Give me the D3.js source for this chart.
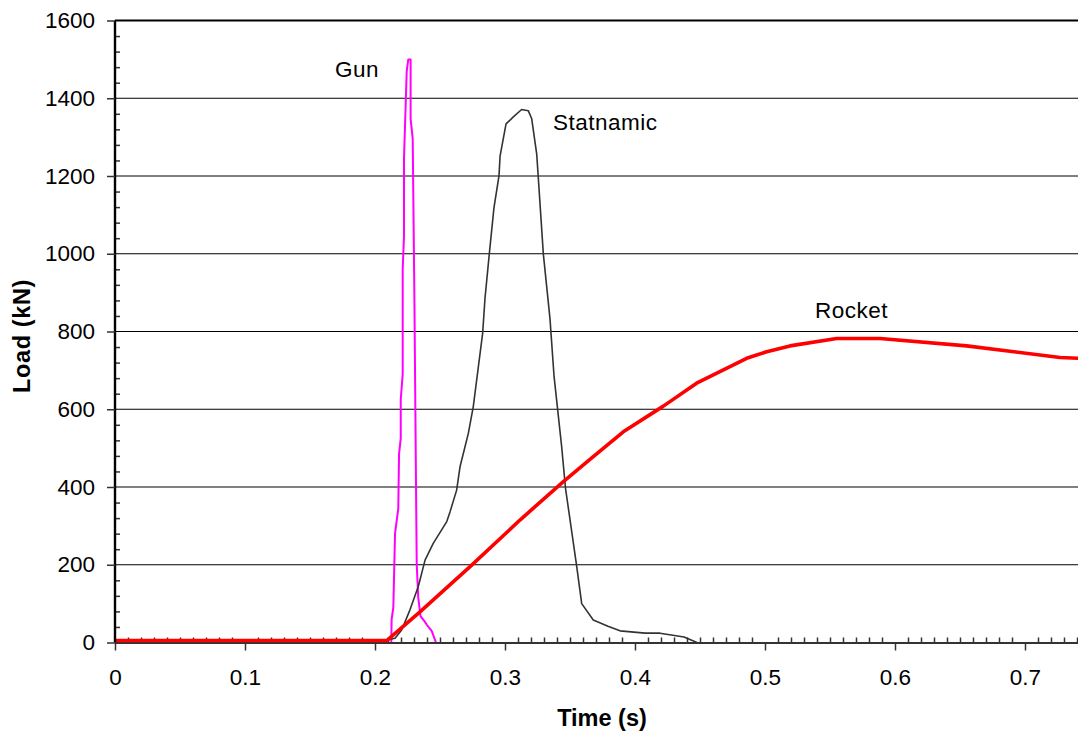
<!DOCTYPE html>
<html>
<head>
<meta charset="utf-8">
<script src="https://cdn.jsdelivr.net/npm/d3@7"></script>
<style>
  html, body { margin: 0; padding: 0; background: #fff; }
  svg { display: block; font-family: "Liberation Sans", Arial, sans-serif; }
</style>
</head>
<body>
<svg id="chart" width="1078" height="736"></svg>
<script>
// ---- data ----
const xTicks = [0, 0.1, 0.2, 0.3, 0.4, 0.5, 0.6, 0.7];
const yTicks = [0, 200, 400, 600, 800, 1000, 1200, 1400, 1600];
const seriesNames = ["Gun", "Statnamic", "Rocket"];
const xTitle = "Time (s)";
const yTitle = "Load (kN)";

const gunTime = [0.2125, 0.2128, 0.2141, 0.2154, 0.2179, 0.2185, 0.2198, 0.2198, 0.2213, 0.2213, 0.2223, 0.2223, 0.2244, 0.2256, 0.2274, 0.2274, 0.2290, 0.2303, 0.2315, 0.2321, 0.2333, 0.2350, 0.2380, 0.2400, 0.2436, 0.2469];
const gunLoad = [0, 60, 90, 280, 345, 485, 525, 625, 690, 960, 1045, 1245, 1470, 1500, 1500, 1347, 1296, 888, 424, 200, 115, 68, 55, 45, 30, 0];

const statTime = [0, 0.183, 0.2, 0.2077, 0.2154, 0.2205, 0.2269, 0.2333, 0.2385, 0.2448, 0.2552, 0.2577, 0.2628, 0.2654, 0.2718, 0.2756, 0.2795, 0.2828, 0.2846, 0.2879, 0.2915, 0.2954, 0.2962, 0.3008, 0.3064, 0.3128, 0.3179, 0.3205, 0.3244, 0.3256, 0.3295, 0.3346, 0.3377, 0.3436, 0.3465, 0.3551, 0.3590, 0.3679, 0.3792, 0.3885, 0.4077, 0.4192, 0.4377, 0.4477];
const statLoad = [0, 7, 7, 5, 11, 32, 84, 144, 212, 255, 311, 336, 392, 452, 538, 607, 709, 795, 885, 999, 1118, 1201, 1251, 1334, 1352, 1371, 1368, 1348, 1256, 1196, 999, 833, 686, 503, 398, 197, 100, 58, 42, 30, 24, 24, 14, 0];

const rocketTime = [0, 0.209, 0.2346, 0.2744, 0.3115, 0.3449, 0.3679, 0.391, 0.4218, 0.4474, 0.4859, 0.5013, 0.5192, 0.5551, 0.5885, 0.6551, 0.7269, 0.75];
const rocketLoad = [5, 5, 79, 199, 315, 414, 478, 542, 608, 667, 731, 748, 763, 782, 782, 763, 733, 730];

// ---- layout ----
const svg = d3.select("#chart");
const pLeft = 115, pRight = 1090, pTop = 20.5, pBottom = 642.5;
const x = d3.scaleLinear().domain([0, 0.75]).range([pLeft, pRight]);
const y = d3.scaleLinear().domain([0, 1600]).range([pBottom, pTop]);
const FONT = "Liberation Sans, Arial, sans-serif";

// gridlines
svg.append("g").selectAll("line")
  .data(yTicks.filter(v => v > 0 && v < 1600))
  .join("line")
  .attr("x1", pLeft).attr("x2", pRight)
  .attr("y1", d => y(d)).attr("y2", d => y(d))
  .attr("stroke", "#000").attr("stroke-width", 1);

// top border
svg.append("line").attr("x1", pLeft).attr("x2", pRight)
  .attr("y1", y(1600)).attr("y2", y(1600))
  .attr("stroke", "#000").attr("stroke-width", 2);

// minor ticks
const yMinor = d3.range(0, 1601, 40).filter(v => v % 200 !== 0);
const xMinor = d3.range(1, 75).map(i => i / 100).filter(v => Math.round(v * 100) % 10 !== 0);

const yMinorAxis = svg.append("g").attr("transform", `translate(${pLeft},0)`)
  .call(d3.axisRight(y).tickValues(yMinor).tickSize(5).tickFormat(""));
yMinorAxis.select(".domain").remove();
yMinorAxis.selectAll("line").attr("stroke", "#333").attr("stroke-width", 1.5);

const xMinorAxis = svg.append("g").attr("transform", `translate(0,${pBottom})`)
  .call(d3.axisTop(x).tickValues(xMinor).tickSize(5).tickFormat(""));
xMinorAxis.select(".domain").remove();
xMinorAxis.selectAll("line").attr("stroke", "#333").attr("stroke-width", 1.5);

// series lines
const line = d3.line().x(d => x(d[0])).y(d => y(d[1]));
const zip = (a, b) => a.map((v, i) => [v, b[i]]);

svg.append("path").datum(zip(gunTime, gunLoad))
  .attr("d", line).attr("fill", "none")
  .attr("stroke", "#FF00FF").attr("stroke-width", 2).attr("stroke-linejoin", "round");

svg.append("path").datum(zip(statTime, statLoad))
  .attr("d", line).attr("fill", "none")
  .attr("stroke", "#333333").attr("stroke-width", 1.6).attr("stroke-linejoin", "round");

// x axis (major)
const xAxis = svg.append("g").attr("transform", `translate(0,${pBottom})`)
  .call(d3.axisBottom(x).tickValues(xTicks).tickSize(8).tickPadding(19)
    .tickFormat(d => String(+d.toFixed(1))));
xAxis.select(".domain").attr("d", `M${pLeft},0.5H${pRight}`).attr("stroke", "#333").attr("stroke-width", 2.2);
xAxis.selectAll("line").attr("stroke", "#333").attr("stroke-width", 1.5);
xAxis.selectAll("text").attr("font-size", 22.5).attr("fill", "#000").attr("font-family", FONT);

svg.append("path").datum(zip(rocketTime, rocketLoad))
  .attr("d", line).attr("fill", "none")
  .attr("stroke", "#FF0000").attr("stroke-width", 3.6).attr("stroke-linejoin", "round");

// y axis (major)
const yAxis = svg.append("g").attr("transform", `translate(${pLeft},0)`)
  .call(d3.axisLeft(y).tickValues(yTicks).tickSize(8).tickPadding(12).tickFormat(d3.format("d")));
yAxis.select(".domain").attr("d", `M0,${pTop}V${pBottom}`).attr("stroke", "#000").attr("stroke-width", 2.4);
yAxis.selectAll("line").attr("stroke", "#333").attr("stroke-width", 1.5);
yAxis.selectAll("text").attr("font-size", 22.5).attr("fill", "#000").attr("font-family", FONT);

// axis titles
svg.append("text").attr("x", 602).attr("y", 726)
  .attr("text-anchor", "middle").attr("font-size", 23.5).attr("font-weight", "bold")
  .attr("font-family", FONT)
  .text(xTitle);
svg.append("text").attr("transform", "translate(30,336) rotate(-90)")
  .attr("text-anchor", "middle").attr("font-size", 23.5).attr("font-weight", "bold")
  .attr("letter-spacing", 0.6).attr("font-family", FONT)
  .text(yTitle);

// series labels
const labelPos = [[335, 77], [553, 130], [815, 318]];
svg.append("g").selectAll("text").data(seriesNames).join("text")
  .attr("x", (d, i) => labelPos[i][0]).attr("y", (d, i) => labelPos[i][1])
  .attr("font-size", 22.5).attr("letter-spacing", 0.5).attr("fill", "#000")
  .attr("font-family", FONT)
  .text(d => d);
</script>
</body>
</html>
